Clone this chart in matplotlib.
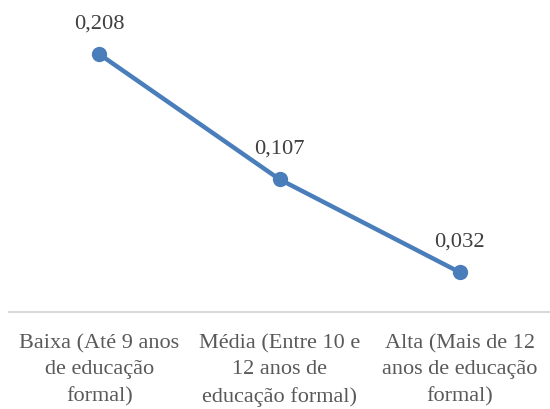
import matplotlib
matplotlib.use("Agg")
import matplotlib.pyplot as plt

categories = ["Baixa (Até 9 anos\nde educação\nformal)",
              "Média (Entre 10 e\n12 anos de\neducação formal)",
              "Alta (Mais de 12\nanos de educação\nformal)"]
values = [0.208, 0.107, 0.032]
labels = ["0,208", "0,107", "0,032"]

plt.rcParams['font.family'] = 'serif'
plt.rcParams['font.serif'] = ['Liberation Serif', 'DejaVu Serif']

fig = plt.figure(figsize=(5.5, 4.1), dpi=100)
ax = fig.add_axes([9/550, (410-313)/410, 1 - 9/550, (313-3)/410])

x = list(range(len(categories)))
ax.plot(x, values, color="#4a7ebb", linewidth=3.2, marker="o", markersize=10,
        solid_capstyle="round")
for xi, v, l in zip(x, values, labels):
    ax.annotate(l, (xi, v), xytext=(0, 22.5), textcoords="offset points",
                ha="center", va="center", fontsize=16.2, color="#404040")

ax.set_xlim(-0.5, 2.5)
ax.set_ylim(0, 0.25)
ax.set_yticks([])
ax.set_xticks(x)
ax.set_xticklabels(categories, fontsize=16, color="#595959", linespacing=1.52)
ax.tick_params(axis='x', length=0, pad=15)
for s in ["top", "right", "left"]:
    ax.spines[s].set_visible(False)
ax.spines["bottom"].set_color("#d9d9d9")
ax.spines["bottom"].set_linewidth(1.5)

fig.savefig("out.png", dpi=100)
